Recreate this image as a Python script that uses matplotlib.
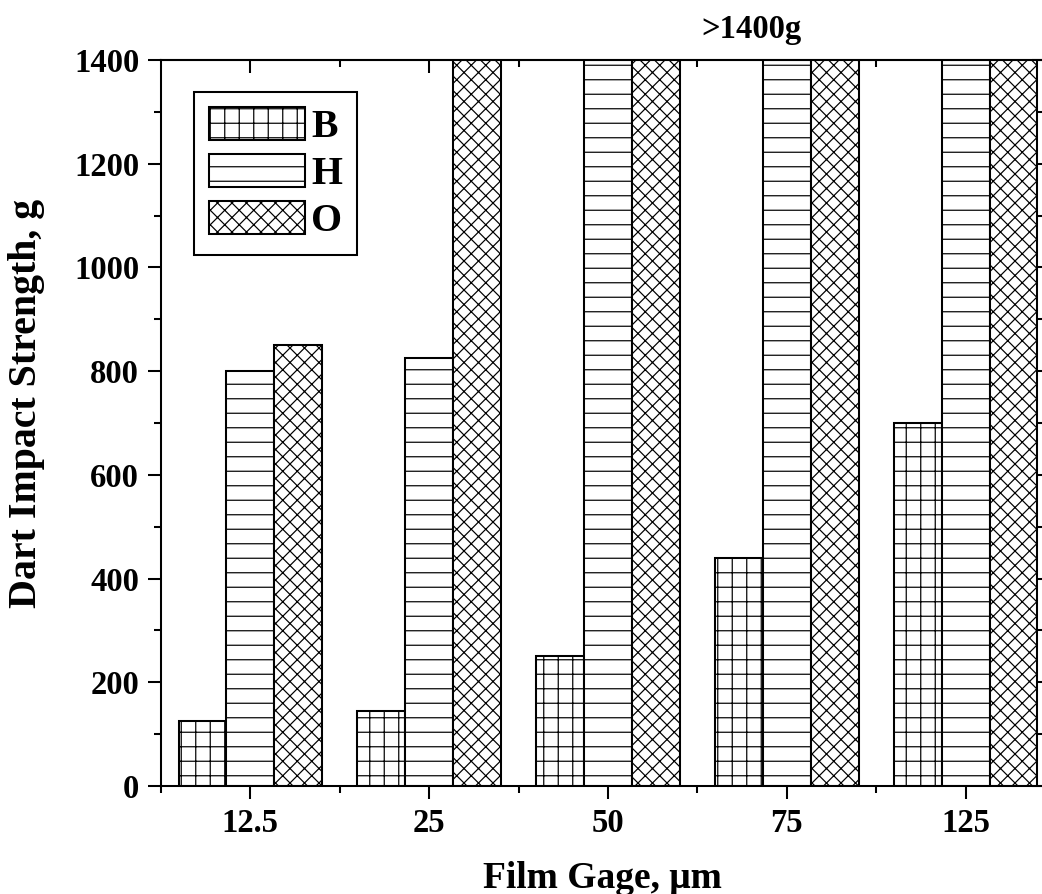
import matplotlib
matplotlib.use("Agg")
import matplotlib.pyplot as plt
import numpy as np

# dati
gage_labels = ["12.5", "25", "50", "75", "125"]
serie_b = [125, 145, 250, 440, 700]
serie_h = [800, 825, 1400, 1400, 1400]
serie_o = [850, 1400, 1400, 1400, 1400]
nomi = ["B", "H", "O"]
hatches = ["+", "-", "xx"]

plt.rcParams['font.family'] = ['Liberation Serif', 'DejaVu Serif']
plt.rcParams['font.weight'] = 'bold'
plt.rcParams['hatch.linewidth'] = 1.0
plt.rcParams['hatch.color'] = 'black'

DPI = 87
fig = plt.figure(figsize=(1042 / DPI, 894 / DPI), dpi=DPI)
ax = fig.add_axes([0.1545, 0.1208, 0.848, 0.8121])

x = np.arange(1, len(gage_labels) + 1)
w = 0.2667
for i, (vals, nome, h) in enumerate(zip([serie_b, serie_h, serie_o], nomi, hatches)):
    ax.bar(x + (i - 1) * w, vals, width=w, facecolor='white', edgecolor='black',
           linewidth=1.7, hatch=h, label=nome)

ax.set_xlim(0.502, 5.44)
ax.set_ylim(0, 1400)

ax.set_xticks(x)
ax.set_xticklabels(gage_labels)
ax.set_yticks(np.arange(0, 1401, 200))
ax.set_yticks(np.arange(100, 1400, 200), minor=True)
ax.set_xticks(list(x[:-1] + 0.5) + [0.502], minor=True)

ax.tick_params(axis='both', which='both', direction='out', width=1.7, labelsize=27)
ax.tick_params(axis='both', which='major', length=11, pad=7)
ax.tick_params(axis='both', which='minor', length=6)

# tacche interne sopra e a destra
top = ax.secondary_xaxis('top')
top.set_xticks(x)
top.set_xticks(x[:-1] + 0.5, minor=True)
top.tick_params(axis='x', which='both', direction='in', labeltop=False, width=1.7)
top.tick_params(axis='x', which='major', length=11)
top.tick_params(axis='x', which='minor', length=6)
right = ax.secondary_yaxis('right')
right.set_yticks(np.arange(0, 1401, 200))
right.set_yticks(np.arange(100, 1400, 200), minor=True)
right.tick_params(axis='y', which='both', direction='in', labelright=False, width=1.7)
right.tick_params(axis='y', which='major', length=11)
right.tick_params(axis='y', which='minor', length=6)
for a in (ax, top, right):
    for s in a.spines.values():
        s.set_linewidth(1.7)

ax.set_xlabel("Film Gage, \u03bcm", fontsize=31, fontweight='bold', labelpad=18)
ax.set_ylabel("Dart Impact Strength, g", fontsize=33, fontweight='bold')
ax.yaxis.set_label_coords(-0.131, 0.5275)

ax.text(3.8, 1458, ">1400g", fontsize=27, fontweight='bold', ha='center', va='center',
        clip_on=False)

leg = ax.legend(loc='upper left', bbox_to_anchor=(0.0375, 0.956), borderaxespad=0,
                fontsize=33, handlelength=2.4, handleheight=0.88, handletextpad=0.15,
                labelspacing=0.2, borderpad=0.38, fancybox=False, edgecolor='black',
                framealpha=1)
leg.get_frame().set_linewidth(1.7)

fig.savefig("out.png", dpi=DPI)
